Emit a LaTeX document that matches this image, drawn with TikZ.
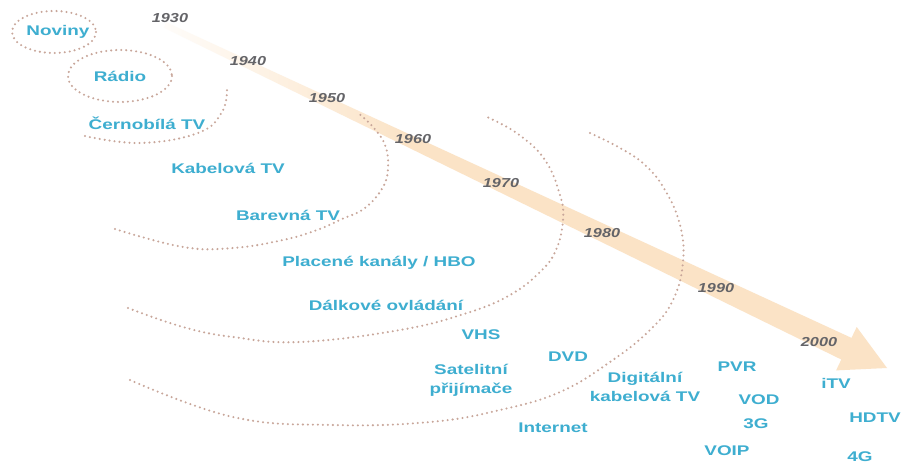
\documentclass[tikz,border=0pt]{standalone}
\usepackage{fontspec}
\setmainfont{Liberation Sans}
\newfontfamily\lblfont[FakeStretch=1.35]{Liberation Sans Bold}
\newfontfamily\yrfont[FakeStretch=1.25]{Liberation Sans Bold Italic}
\definecolor{peach}{RGB}{251,227,198}
\definecolor{lblcol}{RGB}{62,174,208}
\definecolor{yrcol}{RGB}{100,100,104}
\definecolor{dotcol}{RGB}{200,166,154}
\pgfdeclarehorizontalshading{bandfade}{100bp}{color(0bp)=(white); color(25bp)=(peach!10); color(42bp)=(peach); color(100bp)=(peach)}
\tikzset{
  lbl/.style={font=\lblfont\fontsize{14}{19}\selectfont, text=lblcol, align=center, inner sep=0pt},
  yr/.style={font=\yrfont\fontsize{13}{15}\selectfont, text=yrcol, inner sep=0pt},
  dots/.style={draw=dotcol, line width=2.3pt, dash pattern=on 0pt off 5pt, line cap=round}
}
\begin{document}
\begin{tikzpicture}[x=1pt,y=-1pt]
\fill[white] (0,0) rectangle (904,465);
\useasboundingbox (0,0) rectangle (904,465);
% timeline band
\shade[shading=bandfade] (166.3,22.3) -- (851.5,337.9) -- (856.7,327.0) -- (887,368) -- (836.1,370.4) -- (841.3,359.5) -- (163.7,27.7) -- cycle;
% dotted rings
\draw[dots] (54,32) ellipse [x radius=42, y radius=21];
\draw[dots] (120,76) ellipse [x radius=52, y radius=26];
\draw[dots] plot[smooth, tension=0.7] coordinates {(85,136) (140,143) (198,133) (222,112) (227,88)};
\draw[dots] plot[smooth, tension=0.7] coordinates {(115,229) (183,247) (233,248) (283,240) (317,230) (342,219) (365,208) (383,187) (388,167) (385,145) (373,127) (357,112)};
\draw[dots] plot[smooth, tension=0.7] coordinates {(128,308) (183,327) (233,337) (300,342) (400,330) (467,313) (510,295) (540,272) (556,250) (563,220) (560,195) (545,160) (518,134) (487,117)};
\draw[dots] plot[smooth, tension=0.7] coordinates {(130,380) (233,417) (333,425) (430,422) (500,410) (560,392) (610,362) (650,330) (673,300) (683,262) (680,225) (665,190) (645,165) (620,148) (590,133)};
% years
\node[yr] (y1930) at (170,18) {1930};
\node[yr] (y1940) at (248,61) {1940};
\node[yr] (y1950) at (327,98) {1950};
\node[yr] (y1960) at (413,139) {1960};
\node[yr] (y1970) at (501,183) {1970};
\node[yr] (y1980) at (602,233) {1980};
\node[yr] (y1990) at (716,288) {1990};
\node[yr] (y2000) at (819,342) {2000};
% labels
\node[lbl] (noviny) at (58,32) {Noviny};
\node[lbl] (radio) at (120,76) {Rádio};
\node[lbl] (cb) at (147,123) {Černobílá TV};
\node[lbl] (kab) at (228,168) {Kabelová TV};
\node[lbl] (bar) at (288,215) {Barevná TV};
\node[lbl] (plac) at (379,263) {Placené kanály / HBO};
\node[lbl] (dalk) at (386,305) {Dálkové ovládání};
\node[lbl] (vhs) at (481,335) {VHS};
\node[lbl] (sat) at (471,380) {Satelitní\\přijímače};
\node[lbl] (dvd) at (568,357) {DVD};
\node[lbl] (inet) at (553,428) {Internet};
\node[lbl] (dig) at (645,387) {Digitální\\kabelová TV};
\node[lbl] (pvr) at (737,367) {PVR};
\node[lbl] (vod) at (759,400) {VOD};
\node[lbl] (g3) at (756,424) {3G};
\node[lbl] (voip) at (727,451) {VOIP};
\node[lbl] (itv) at (836,383) {iTV};
\node[lbl] (hdtv) at (875,418) {HDTV};
\node[lbl] (g4) at (860,457) {4G};
\end{tikzpicture}
\end{document}
